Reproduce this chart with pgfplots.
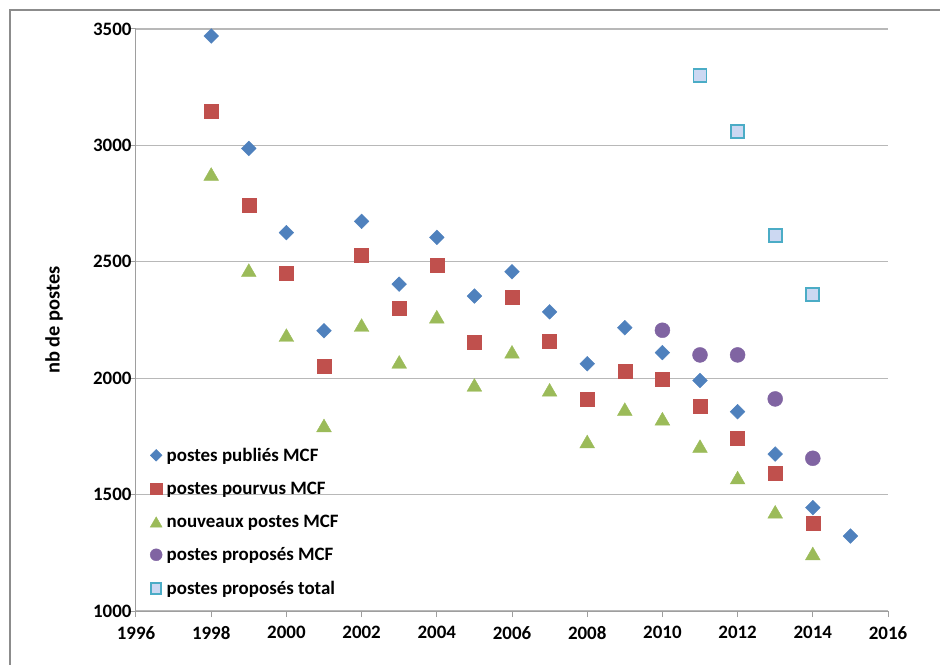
\documentclass[border=0pt]{standalone}
\usepackage{fontspec}
\setmainfont{Carlito}
\usepackage{pgfplots}
\pgfplotsset{compat=1.18}
\definecolor{cBlue}{HTML}{4F81BD}
\definecolor{cRed}{HTML}{C0504D}
\definecolor{cGreen}{HTML}{9BBB59}
\definecolor{cPurple}{HTML}{8064A2}
\definecolor{cAqua}{HTML}{4BACC6}
\definecolor{cFill}{RGB}{204,216,242}
\begin{document}
\begin{tikzpicture}
\useasboundingbox (-136bp,-54bp) rectangle (804bp,611bp);
\draw[color=black!45, line width=1.3bp] (-126bp,-80bp) -- (-126bp,601bp) -- (830bp,601bp);
\begin{axis}[
  at={(0,0)}, anchor=south west,
  scale only axis, width=752bp, height=582bp,
  xmin=1996, xmax=2016, ymin=1000, ymax=3500,
  xtick={1996,1998,...,2016}, ytick={1000,1500,...,3500},
  axis x line=bottom, axis y line=left,
  axis line style={-, draw=black!38, line width=1bp},
  tick style={draw=black!38, line width=1bp},
  tick align=outside, major tick length=6bp,
  ymajorgrids, grid style={draw=black!28, line width=1.3bp},
  /pgf/number format/1000 sep={},
  /pgf/number format/assume math mode=true,
  ticklabel style={font=\fontsize{19}{19}\selectfont\bfseries},
  xticklabel style={yshift=-6bp},
  yticklabel style={xshift=5bp},
  ylabel={nb de postes},
  ylabel style={at={(axis description cs:-0.109,0.5)}, anchor=center, font=\fontsize{20.5}{20.5}\selectfont\bfseries},
  legend cell align=left,
  legend style={draw=none, fill=none, at={(0,0)}, anchor=south west, xshift=11bp, yshift=11bp,
    font=\fontsize{19}{19}\selectfont\bfseries, row sep=15bp, column sep=2.5bp},
  legend image code/.code={\draw[mark repeat=2,mark phase=2,#1, every mark/.append style={scale=0.8}] plot coordinates {(0bp,0bp)(6bp,0bp)(12bp,0bp)};},
]
\addplot[only marks, mark=square*, mark size=5.2bp, mark options={rotate=45, fill=cBlue, draw=cBlue}] coordinates {
(1998,3470)(1999,2987)(2000,2625)(2001,2204)(2002,2674)(2003,2404)(2004,2605)(2005,2353)(2006,2457)
(2007,2285)(2008,2062)(2009,2217)(2010,2110)(2011,1990)(2012,1856)(2013,1674)(2014,1444)(2015,1322)};
\addlegendentry{postes publiés MCF}
\addplot[only marks, mark=square*, mark size=7bp, mark options={fill=cRed, draw=cRed}] coordinates {
(1998,3145)(1999,2742)(2000,2451)(2001,2053)(2002,2529)(2003,2302)(2004,2485)(2005,2154)(2006,2347)
(2007,2158)(2008,1910)(2009,2032)(2010,1996)(2011,1880)(2012,1744)(2013,1594)(2014,1378)};
\addlegendentry{postes pourvus MCF}
\addplot[only marks, mark=triangle*, mark size=8.5bp, mark options={fill=cGreen, draw=cGreen, yshift=-2.1bp}] coordinates {
(1998,2877)(1999,2464)(2000,2185)(2001,1797)(2002,2228)(2003,2070)(2004,2264)(2005,1971)(2006,2113)
(2007,1950)(2008,1728)(2009,1867)(2010,1826)(2011,1708)(2012,1573)(2013,1426)(2014,1247)};
\addlegendentry{nouveaux postes MCF}
\addplot[only marks, mark=*, mark size=7.5bp, mark options={fill=cPurple, draw=cPurple}] coordinates {
(2010,2206)(2011,2100)(2012,2100)(2013,1911)(2014,1656)};
\addlegendentry{postes proposés MCF}
\addplot[only marks, mark=square*, mark size=6.5bp, mark options={draw=cAqua, line width=1.8bp, fill=cFill}] coordinates {
(2011,3301)(2012,3058)(2013,2612)(2014,2358)};
\addlegendentry{postes proposés total}
\end{axis}
\end{tikzpicture}
\end{document}
